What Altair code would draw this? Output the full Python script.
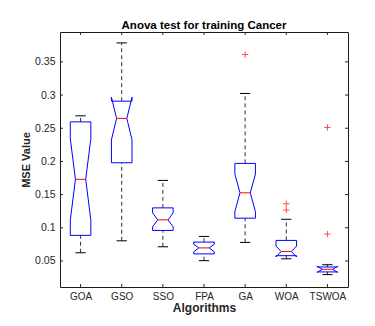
import json
import altair as alt
import pandas as pd

# ---- data ----
algos = ["GOA", "GSO", "SSO", "FPA", "GA", "WOA", "TSWOA"]
q1 = [0.0886, 0.1980, 0.0960, 0.0607, 0.1145, 0.0580, 0.0335]
med = [0.1730, 0.2648, 0.1120, 0.0697, 0.1527, 0.0642, 0.0375]
q3 = [0.2596, 0.2908, 0.1300, 0.0785, 0.1970, 0.0810, 0.0410]
notch_lo = [0.1115, 0.2325, 0.1015, 0.0640, 0.1245, 0.0560, 0.0328]
notch_hi = [0.2345, 0.2968, 0.1225, 0.0752, 0.1810, 0.0725, 0.0420]
whisk_lo = [0.0624, 0.0804, 0.0714, 0.0505, 0.0780, 0.0533, 0.0295]
whisk_hi = [0.2687, 0.3786, 0.1714, 0.0870, 0.3024, 0.1128, 0.0444]
outlier_algo = ["GA", "WOA", "WOA", "TSWOA", "TSWOA"]
outlier_val = [0.361, 0.1362, 0.1267, 0.2512, 0.0905]
y_ticks = [0.05, 0.1, 0.15, 0.2, 0.25, 0.3, 0.35]

# ---- layout / style ----
PW, PH = 288, 255
HALF = 0.25  # half box width in category units
TICK = 3
FONT = "Liberation Sans"

pos = {a: i + 1 for i, a in enumerate(algos)}

box_rows = []
for i, a in enumerate(algos):
    p = pos[a]
    xs = [p - HALF, p - HALF, p - HALF / 2, p - HALF, p - HALF,
          p + HALF, p + HALF, p + HALF / 2, p + HALF, p + HALF, p - HALF]
    ys = [q1[i], notch_lo[i], med[i], notch_hi[i], q3[i],
          q3[i], notch_hi[i], med[i], notch_lo[i], q1[i], q1[i]]
    for k, (x, y) in enumerate(zip(xs, ys)):
        box_rows.append({"algo": a, "x": x, "y": y, "k": k})
box_df = pd.DataFrame(box_rows)

stat_df = pd.DataFrame({
    "algo": algos,
    "p": [pos[a] for a in algos],
    "pl": [pos[a] - HALF / 2 for a in algos],
    "pr": [pos[a] + HALF / 2 for a in algos],
    "q1": q1, "med": med, "q3": q3,
    "wlo": whisk_lo, "whi": whisk_hi,
})
out_df = pd.DataFrame({"p": [pos[a] for a in outlier_algo], "v": outlier_val})
ytick_df = pd.DataFrame({"v": y_ticks})
xtick_df = pd.DataFrame({"v": [pos[a] for a in algos]})

xscale = alt.Scale(domain=[0.5, 7.5], nice=False, zero=False)
yscale = alt.Scale(domain=[0.0108, 0.395], nice=False, zero=False)
label_expr = "%s[datum.value - 1]" % json.dumps(algos).replace('"', "'")
xaxis = alt.Axis(values=list(range(1, len(algos) + 1)), labelExpr=label_expr,
                 grid=False, domain=False, ticks=False, labelPadding=4,
                 labelFont=FONT, labelFontSize=10, labelColor="#262626",
                 titleFont=FONT, titleFontSize=12, titleFontWeight="bold",
                 titleColor="#262626", titlePadding=1)
yaxis = alt.Axis(values=y_ticks, format="~g", grid=False, domain=False,
                 ticks=False, labelPadding=5, labelFont=FONT, labelFontSize=10.5,
                 labelColor="#262626", titleFont=FONT, titleFontSize=11,
                 titleFontWeight="bold", titleColor="#262626", titlePadding=3)


def X(f):
    return alt.X(f, type="quantitative", scale=xscale, axis=xaxis, title="Algorithms")


def Y(f):
    return alt.Y(f, type="quantitative", scale=yscale, axis=yaxis, title="MSE Value")


whisk_up = alt.Chart(stat_df).mark_rule(color="#333333", strokeDash=[4, 3], strokeWidth=1).encode(
    x=X("p"), y=Y("q3"), y2="whi")
whisk_dn = alt.Chart(stat_df).mark_rule(color="#333333", strokeDash=[4, 3], strokeWidth=1).encode(
    x=X("p"), y=Y("wlo"), y2="q1")
cap_hi = alt.Chart(stat_df).mark_rule(color="black", strokeWidth=1).encode(
    x=X("pl"), x2="pr", y=Y("whi"))
cap_lo = alt.Chart(stat_df).mark_rule(color="black", strokeWidth=1).encode(
    x=X("pl"), x2="pr", y=Y("wlo"))
boxes = alt.Chart(box_df).mark_line(color="#0000FF", strokeWidth=1).encode(
    x=X("x"), y=Y("y"), detail="algo:N", order="k:Q")
medians = alt.Chart(stat_df).mark_rule(color="#FF0000", strokeWidth=1).encode(
    x=X("pl"), x2="pr", y=Y("med"))
outliers = alt.Chart(out_df).mark_point(
    shape="M-1,0L1,0M0,-1L0,1", size=40, color="#FF0000", filled=False, strokeWidth=1
).encode(x=X("p"), y=Y("v"))

tick_l = alt.Chart(ytick_df).mark_rule(color="#262626").encode(
    y=Y("v"), x=alt.value(0), x2=alt.value(TICK))
tick_r = alt.Chart(ytick_df).mark_rule(color="#262626").encode(
    y=Y("v"), x=alt.value(PW - TICK), x2=alt.value(PW))
tick_t = alt.Chart(xtick_df).mark_rule(color="#262626").encode(
    x=X("v"), y=alt.value(0), y2=alt.value(TICK))
tick_b = alt.Chart(xtick_df).mark_rule(color="#262626").encode(
    x=X("v"), y=alt.value(PH - TICK), y2=alt.value(PH))

chart = alt.layer(
    whisk_up, whisk_dn, cap_hi, cap_lo, boxes, medians, outliers,
    tick_l, tick_r, tick_t, tick_b,
).properties(
    width=PW, height=PH,
    background="white",
    title=alt.TitleParams("Anova test for training Cancer", font=FONT, fontSize=11.5,
                          fontWeight="bold", color="black", offset=0, anchor="middle"),
    autosize=alt.AutoSizeParams(type="none"),
    padding={"left": 52, "top": 24, "right": 12, "bottom": 30},
).configure_view(stroke="#1a1a1a", strokeWidth=1)

chart.save("out.html", embed_options={"renderer": "svg", "actions": False})
